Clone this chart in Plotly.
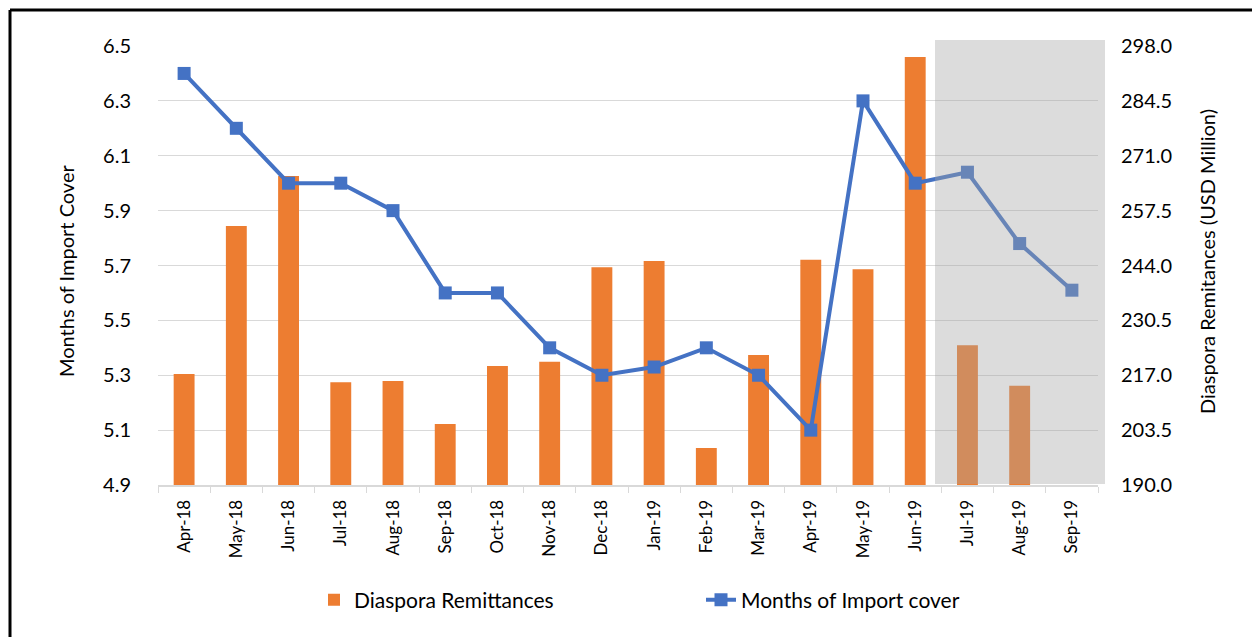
import plotly.graph_objects as go

months = ["Apr-18", "May-18", "Jun-18", "Jul-18", "Aug-18", "Sep-18", "Oct-18", "Nov-18",
          "Dec-18", "Jan-19", "Feb-19", "Mar-19", "Apr-19", "May-19", "Jun-19", "Jul-19",
          "Aug-19", "Sep-19"]
remittances = [217.3, 253.7, 266.0, 215.3, 215.6, 205.0, 219.3, 220.3, 243.6, 245.1,
               199.1, 222.0, 245.4, 243.1, 295.3, 224.4, 214.4, None]
import_cover = [6.40, 6.20, 6.00, 6.00, 5.90, 5.60, 5.60, 5.40, 5.30, 5.33,
                5.40, 5.30, 5.10, 6.30, 6.00, 6.04, 5.78, 5.61]

left_ticks = [4.9, 5.1, 5.3, 5.5, 5.7, 5.9, 6.1, 6.3, 6.5]
right_ticks = [190.0, 203.5, 217.0, 230.5, 244.0, 257.5, 271.0, 284.5, 298.0]

FONT = "Lato"
W, H = 1252, 637
L, R, T, B = 158, 154, 46, 152
PW, PH = W - L - R, H - T - B


def px_x(x):
    return (x - L) / PW


def px_y(y):
    return (H - B - y) / PH


fig = go.Figure()
fig.add_trace(go.Bar(
    x=months, y=remittances, name="Diaspora Remittances",
    marker=dict(color="#ED7D31", line=dict(width=0)), yaxis="y",
))
fig.add_trace(go.Scatter(
    x=months, y=import_cover, name="Months of Import cover", mode="lines+markers",
    line=dict(color="#4472C4", width=4),
    marker=dict(symbol="square", size=13, color="#4472C4"), yaxis="y2",
))

shapes = [
    # forecast shading
    dict(type="rect", xref="paper", yref="paper", x0=px_x(935), x1=px_x(1105),
         y0=px_y(484), y1=px_y(40), fillcolor="rgba(164,164,164,0.385)",
         line=dict(width=0), layer="above"),
    # outer frame (top and left edges)
    dict(type="line", xref="paper", yref="paper", x0=px_x(10), x1=px_x(1300),
         y0=px_y(10), y1=px_y(10), line=dict(color="black", width=3)),
    dict(type="line", xref="paper", yref="paper", x0=px_x(10), x1=px_x(10),
         y0=px_y(10), y1=px_y(700), line=dict(color="black", width=3)),
]

annotations = [
    dict(text="Months of Import Cover", xref="paper", yref="paper", x=px_x(66), y=px_y(271),
         xanchor="center", yanchor="middle",
         textangle=-90, showarrow=False, font=dict(family=FONT, size=20, color="black")),
    dict(text="Diaspora Remitances (USD Million)", xref="paper", yref="paper",
         x=px_x(1207), y=px_y(262), xanchor="center", yanchor="middle",
         textangle=-90, showarrow=False,
         font=dict(family=FONT, size=20, color="black")),
]

fig.update_layout(
    width=W, height=H,
    margin=dict(l=L, r=R, t=T, b=B, autoexpand=False),
    paper_bgcolor="white", plot_bgcolor="white",
    font=dict(family=FONT, size=18, color="black"),
    bargap=0.6,
    showlegend=True,
    legend=dict(orientation="h", x=px_x(314), y=px_y(600), xanchor="left", yanchor="middle",
                font=dict(family=FONT, size=21), entrywidth=342, traceorder="normal"),
    xaxis=dict(type="category", range=[-0.5, len(months) - 0.5], showgrid=False,
               showline=True, linecolor="#d9d9d9", linewidth=2,
               ticks="outside", tickson="boundaries", ticklen=6, tickcolor="#d9d9d9",
               tickangle=-90, tickfont=dict(family=FONT, size=17), ticklabelstandoff=6),
    yaxis=dict(side="right", range=[190, 298], tickvals=right_ticks, tickformat=".1f",
               showgrid=True, gridcolor="#d9d9d9", gridwidth=1, zeroline=False,
               showline=False, tickfont=dict(family=FONT, size=20), ticklabelstandoff=22),
    yaxis2=dict(side="left", overlaying="y", range=[4.9, 6.5], tickvals=left_ticks,
                tickformat=".1f", showgrid=False, zeroline=False, showline=False,
                tickfont=dict(family=FONT, size=20), ticklabelstandoff=26),
    shapes=shapes,
    annotations=annotations,
)

fig.write_html("out.html", config={"displayModeBar": False},
               post_script="document.body.style.margin='0';document.body.style.overflow='hidden';")
